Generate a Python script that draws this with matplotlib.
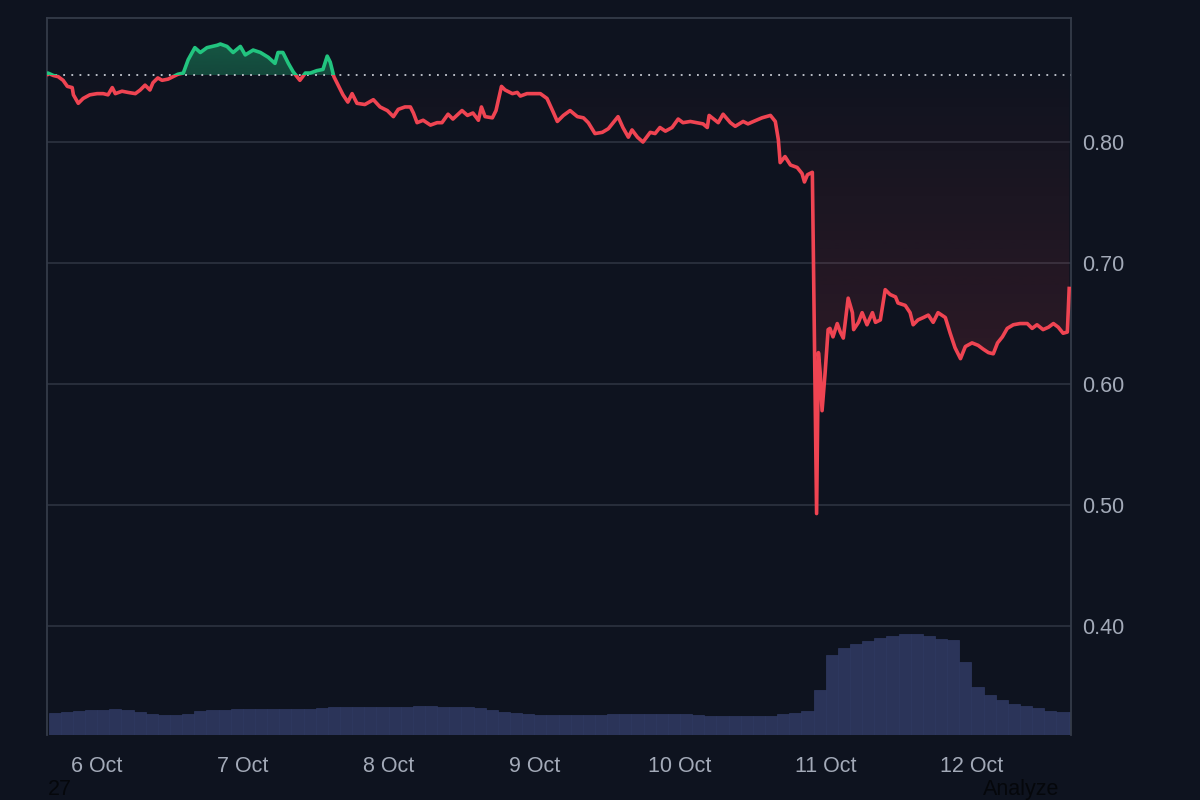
import numpy as np
import matplotlib
matplotlib.use('Agg')
import matplotlib.pyplot as plt
from matplotlib.path import Path
from matplotlib.patches import Rectangle
from matplotlib.colors import to_rgb

# hours counted from 6 Oct 00:00
hours = [-8.2, -8.1, -7.2, -6.4, -5.6, -4.9, -4.1, -3.9, -3.1, -2.3, -1.2,
         0.0, 1.0, 1.8, 2.5, 3.0, 4.1, 5.1, 6.3, 7.1, 7.9, 8.7, 9.2, 10.0,
         10.7, 11.7, 12.5, 13.3, 14.2, 15.0, 16.1, 17.0, 18.1, 19.8, 20.3,
         21.4, 22.4, 23.6, 24.4, 25.7, 26.9, 28.2, 29.3, 29.8, 30.6, 31.5,
         32.3, 33.4, 34.3, 35.1, 36.2, 37.2, 37.9, 38.4, 39.0, 39.7, 40.5,
         41.3, 42.0, 42.8, 44.1, 45.5, 46.6, 47.8, 48.8, 49.6, 50.7, 51.6,
         52.1, 52.7, 53.7, 54.9, 56.0, 56.8, 57.8, 58.6, 60.1, 61.0, 61.9,
         62.8, 63.3, 63.9, 65.1, 65.7, 66.6, 67.2, 68.4, 69.2, 69.7, 70.8,
         71.8, 73.0, 74.1, 75.1, 75.8, 76.8, 77.9, 79.1, 80.1, 80.9, 82.0,
         83.2, 84.2, 85.0, 85.8, 86.6, 87.5, 88.1, 89.0, 89.9, 91.1, 91.9,
         92.7, 93.6, 94.7, 95.7, 96.5, 97.7, 98.8, 99.8, 100.5, 100.8, 101.8,
         102.3, 103.1, 104.3, 105.1, 106.4, 107.2, 108.1, 109.5, 110.9, 111.7,
         112.2, 112.5, 113.3, 114.2, 115.3, 116.1, 116.5, 117.0, 117.8, 118.5,
         118.8, 119.1, 119.4, 119.9, 120.4, 120.7, 121.2, 121.9, 122.4, 122.9,
         123.7, 124.4, 124.6, 125.4, 126.0, 126.8, 127.7, 128.2, 129.0, 129.8,
         130.6, 131.5, 131.9, 133.1, 133.9, 134.4, 135.2, 136.1, 136.9, 137.7,
         138.5, 139.7, 140.5, 141.3, 142.2, 143.0, 144.1, 145.1, 145.9, 146.8,
         147.6, 148.3, 149.1, 149.9, 150.9, 152.0, 153.2, 154.0, 154.8, 155.8,
         156.7, 157.5, 158.3, 159.1, 159.8, 160.1]
price = [0.856, 0.857, 0.855, 0.854, 0.851, 0.846, 0.845, 0.839, 0.832, 0.836, 0.839,
         0.840, 0.840, 0.839, 0.845, 0.840, 0.842, 0.841, 0.840, 0.843, 0.847, 0.843, 0.849, 0.853,
         0.851, 0.852, 0.854, 0.856, 0.857, 0.868, 0.878, 0.874, 0.878, 0.880, 0.881,
         0.879, 0.874, 0.879, 0.872, 0.876, 0.874, 0.870, 0.865, 0.874, 0.874, 0.865,
         0.858, 0.851, 0.857, 0.857, 0.859, 0.860, 0.871, 0.866, 0.854, 0.847, 0.839,
         0.833, 0.840, 0.832, 0.831, 0.835, 0.829, 0.826, 0.821, 0.827, 0.829, 0.829,
         0.824, 0.816, 0.818, 0.814, 0.816, 0.816, 0.823, 0.819, 0.826, 0.822, 0.824,
         0.818, 0.829, 0.821, 0.820, 0.826, 0.846, 0.843, 0.840, 0.841, 0.838, 0.840,
         0.840, 0.840, 0.836, 0.825, 0.817, 0.822, 0.826, 0.821, 0.820, 0.816, 0.807,
         0.808, 0.811, 0.816, 0.821, 0.812, 0.804, 0.810, 0.804, 0.800, 0.808, 0.807,
         0.812, 0.809, 0.812, 0.819, 0.816, 0.817, 0.816, 0.815, 0.812, 0.822, 0.818,
         0.816, 0.823, 0.816, 0.813, 0.817, 0.815, 0.817, 0.820, 0.822, 0.817,
         0.802, 0.783, 0.788, 0.781, 0.779, 0.774, 0.767, 0.773, 0.775, 0.493,
         0.626, 0.609, 0.578, 0.609, 0.645, 0.646, 0.639, 0.650, 0.643, 0.638,
         0.671, 0.659, 0.645, 0.651, 0.659, 0.649, 0.659, 0.651, 0.653, 0.678,
         0.674, 0.672, 0.667, 0.665, 0.659, 0.649, 0.653, 0.655, 0.657, 0.651,
         0.659, 0.655, 0.642, 0.630, 0.621, 0.631, 0.634, 0.632, 0.629, 0.626,
         0.625, 0.634, 0.639, 0.646, 0.649, 0.650, 0.650, 0.646, 0.649, 0.645,
         0.647, 0.650, 0.647, 0.642, 0.643, 0.679]
base_price = 0.855

# volume, one bar every 2 hours starting at 5 Oct 17:00
vol = [2.2, 2.3, 2.4, 2.5, 2.5, 2.6, 2.5, 2.3, 2.1, 2.0, 2.0, 2.1, 2.4, 2.5, 2.5,
       2.6, 2.6, 2.6, 2.6, 2.6, 2.6, 2.6, 2.7, 2.8, 2.8, 2.8, 2.8, 2.8, 2.8, 2.8,
       2.9, 2.9, 2.8, 2.8, 2.8, 2.7, 2.5, 2.3, 2.2, 2.1, 2.0, 2.0, 2.0, 2.0, 2.0,
       2.0, 2.1, 2.1, 2.1, 2.1, 2.1, 2.1, 2.1, 2.0, 1.9, 1.9, 1.9, 1.9, 1.9, 1.9,
       2.1, 2.2, 2.4, 4.5, 8.0, 8.7, 9.1, 9.4, 9.7, 9.9, 10.1, 10.1, 9.9, 9.6, 9.5,
       7.3, 4.8, 4.0, 3.5, 3.1, 2.9, 2.7, 2.4, 2.3, 2.3]
vol_hours = np.arange(-7, -7 + 2 * len(vol), 2)

tick_hours = [0, 24, 48, 72, 96, 120, 144]
tick_labels = ['6 Oct', '7 Oct', '8 Oct', '9 Oct', '10 Oct', '11 Oct', '12 Oct']
price_ticks = [0.40, 0.50, 0.60, 0.70, 0.80]

BG = '#0e131f'
GREEN = '#22c47f'
RED = '#ef4452'
x0, x1 = -8.25, 160.4
y0, y1 = 0.310, 0.9025

plt.rcParams['font.family'] = ['Liberation Sans', 'DejaVu Sans']

h = np.array(hours)
p = np.array(price)

fig = plt.figure(figsize=(12, 8), dpi=100, facecolor=BG)
rect = [47 / 1200, 65 / 800, 1024 / 1200, 717 / 800]
axv = fig.add_axes(rect, zorder=0)
ax = fig.add_axes(rect, zorder=1)
ax.patch.set_alpha(0)

# volume
axv.set_facecolor(BG)
axv.bar(vol_hours, vol, width=2.0, color='#2b3459', edgecolor='#2f3962', linewidth=0.5)
axv.set_xlim(x0, x1)
axv.set_ylim(0, max(vol) * 7.1)
axv.axis('off')


def gradient_area(lo, hi, color, ybot, ytop, a_bot, a_top):
    verts = np.concatenate([np.column_stack([h, lo]), np.column_stack([h[::-1], hi[::-1]])])
    path = Path(verts)
    rgba = np.zeros((256, 1, 4))
    rgba[:, 0, :3] = to_rgb(color)
    rgba[:, 0, 3] = np.linspace(a_bot, a_top, 256)
    im = ax.imshow(rgba, extent=[x0, x1, ybot, ytop], origin='lower',
                   aspect='auto', interpolation='bilinear', zorder=2)
    im.set_clip_path(path, transform=ax.transData)


gradient_area(np.minimum(p, base_price), np.full_like(p, base_price), RED, y0, base_price, 0.30, 0.01)
gradient_area(np.full_like(p, base_price), np.maximum(p, base_price), GREEN, base_price, y1, 0.30, 0.45)

ax.axhline(base_price, color='#c8ccd4', lw=1.3, ls=(0, (1, 3.5)), zorder=3)

for color, (ylo, yhi) in [(GREEN, (base_price, y1)), (RED, (y0, base_price))]:
    line, = ax.plot(h, p, color=color, lw=2.6, solid_joinstyle='round', zorder=4)
    clip = Rectangle((x0, ylo), x1 - x0, yhi - ylo, transform=ax.transData)
    line.set_clip_path(clip)

ax.set_xlim(x0, x1)
ax.set_ylim(y0, y1)
ax.set_xticks(tick_hours)
ax.set_xticklabels(tick_labels)
ax.set_yticks(price_ticks)
ax.set_yticklabels([f'{v:.2f}' for v in price_ticks])
ax.yaxis.tick_right()
ax.grid(axis='y', color='#2a303d', lw=1.3)
ax.set_axisbelow(True)
ax.tick_params(axis='y', length=0, pad=8, labelcolor='#a3aab8', labelsize=15.5)
ax.tick_params(axis='x', length=0, pad=15, labelcolor='#a3aab8', labelsize=15.5)
for s in ['top', 'left', 'right']:
    ax.spines[s].set_color('#343b49')
    ax.spines[s].set_linewidth(1.3)
ax.spines['bottom'].set_visible(False)

fig.text(48 / 1200, 1 - 779 / 800, '27', va='top', ha='left', color='#05070b', fontsize=15.5)
fig.text(983 / 1200, 1 - 779 / 800, 'Analyze', va='top', ha='left', color='#05070b', fontsize=15.5)

fig.savefig('out.png', dpi=100, facecolor=BG)
